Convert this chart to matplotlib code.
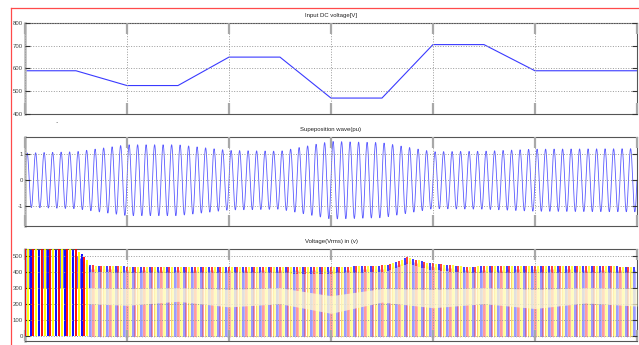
import numpy as np
import matplotlib
matplotlib.use("Agg")
import matplotlib.pyplot as plt
from matplotlib.lines import Line2D

# Input DC voltage profile (breakpoints)
dc_time = [0.0, 0.5, 1.0, 1.5, 2.0, 2.5, 3.0, 3.5, 4.0, 4.5, 5.0, 6.0]
dc_volts = [590, 590, 525, 525, 650, 650, 470, 470, 705, 705, 590, 590]

# Superposition wave: carrier cycles per time unit and amplitude envelope (pu)
wave_cycles = 12
env_time = [0.0, 0.5, 1.0, 1.5, 2.0, 2.5, 3.0, 3.5, 4.0, 4.5, 5.0, 6.0]
env_amp = [1.05, 1.10, 1.37, 1.37, 1.15, 1.12, 1.50, 1.45, 1.10, 1.12, 1.20, 1.22]

# Output phase voltages: start-up transient, peak envelope and mid band
phase_colors = ["#ff0000", "#ffff00", "#0000ff"]
start_end = 0.62
start_time = [0.0, 0.35, 0.5, 0.62]
start_peak = [600, 600, 540, 470]
peak_time = [0.62, 1.0, 2.0, 3.0, 3.55, 3.75, 3.95, 4.3, 5.0, 6.0]
peak_volts = [440, 432, 430, 428, 440, 490, 455, 432, 435, 432]
band_time = [0.62, 1.0, 1.5, 2.0, 2.5, 3.0, 3.5, 4.0, 4.5, 5.0, 5.5, 6.0]
band_low = [200, 190, 215, 180, 200, 140, 210, 175, 200, 170, 205, 185]
band_high = [300, 295, 300, 290, 300, 250, 295, 290, 300, 290, 300, 295]

GRID_KW = dict(color="#9a9a9a", linestyle=":", linewidth=0.7)
FONT = ["Liberation Sans Narrow", "Liberation Sans", "DejaVu Sans"]


def style_axes(ax, ylim, yticks, title):
    ax.set_xlim(0, 6)
    ax.set_ylim(*ylim)
    ax.set_xticks(range(7))
    ax.set_yticks(yticks)
    ax.set_yticklabels([str(v) for v in yticks], fontsize=4.3,
                       family=FONT, color="#444444")
    ax.tick_params(axis="x", direction="in", length=8, width=1.6,
                   color="#a8a8a8", top=True, labelbottom=False)
    ax.tick_params(axis="y", direction="in", length=3.5, width=0.8,
                   color="#333333", right=True, pad=1.5)
    ax.grid(True, **GRID_KW)
    ax.set_axisbelow(False)
    for side in ("top", "bottom", "right"):
        ax.spines[side].set_color("#555555")
        ax.spines[side].set_linewidth(0.8)
    ax.spines["left"].set_color("#b8b8b8")
    ax.spines["left"].set_linewidth(1.8)
    ax.set_title(title, fontsize=4.3, family=FONT, color="#222222", pad=4)


fig = plt.figure(figsize=(6.39, 3.45), dpi=100)
fig.patch.set_facecolor("white")

ax1 = fig.add_axes([0.0391, 0.6696, 0.9577, 0.2638])
ax2 = fig.add_axes([0.0391, 0.3449, 0.9577, 0.2580])
ax3 = fig.add_axes([0.0391, 0.0116, 0.9577, 0.2667])

# Input DC voltage
ax1.plot(dc_time, dc_volts, color="#3a3aff", linewidth=0.8)
style_axes(ax1, (400, 800), [400, 500, 600, 700, 800], "Input DC voltage[V]")

# Superposition wave
t = np.linspace(0, 6, 8000)
wave = np.interp(t, env_time, env_amp) * np.sin(2 * np.pi * wave_cycles * t)
ax2.plot(t, wave, color="#5a5aff", linewidth=0.6)
style_axes(ax2, (-1.77, 1.67), [-1, 0, 1], "Supeposition wave(pu)")

# Phase voltages
period = 1.0 / wave_cycles
for p, col in enumerate(phase_colors):
    offset = p * period / 3
    tk = np.arange(offset, 6, period)
    # start-up: wide saturated pulses
    ts = tk[tk < start_end]
    top = np.interp(ts, start_time, start_peak)
    ax3.vlines(ts, 0, top, color=col, linewidth=1.4, alpha=0.95,
               zorder=2 + (p != 2))
    ax3.vlines(ts + period / 6, 300, top - 40, color="#0000ff",
               linewidth=0.8, alpha=0.6, zorder=2)
    # steady state: thin switching strokes with coloured tips
    tss = tk[tk >= start_end]
    pk = np.interp(tss, peak_time, peak_volts)
    ax3.vlines(tss, -10, pk, color=col, linewidth=1.25, alpha=0.45, zorder=2)
    ax3.vlines(tss + period / 8, -10, pk - 20, color=col, linewidth=0.7,
               alpha=0.3, zorder=2)
    ax3.vlines(tss, pk - 40, pk, color=col, linewidth=1.1, alpha=0.75, zorder=2)

# pale mid band over the strokes
ax3.fill_between(band_time, band_low, band_high, color="#fffbd2",
                 alpha=0.72, linewidth=0, zorder=3)
style_axes(ax3, (-33, 542), [0, 100, 200, 300, 400, 500],
           "Voltage(Vrms) in (v)")

# red window border
fig.add_artist(Line2D([0.0172, 1.0], [0.9768, 0.9768], color="#ff4a4a",
                      linewidth=0.9))
fig.add_artist(Line2D([0.0172, 0.0172], [0.0, 0.9768], color="#ff4a4a",
                      linewidth=0.9))
fig.text(0.086, 0.643, ".", fontsize=5, color="#333333")

fig.savefig("out.png", dpi=100, facecolor="white")
